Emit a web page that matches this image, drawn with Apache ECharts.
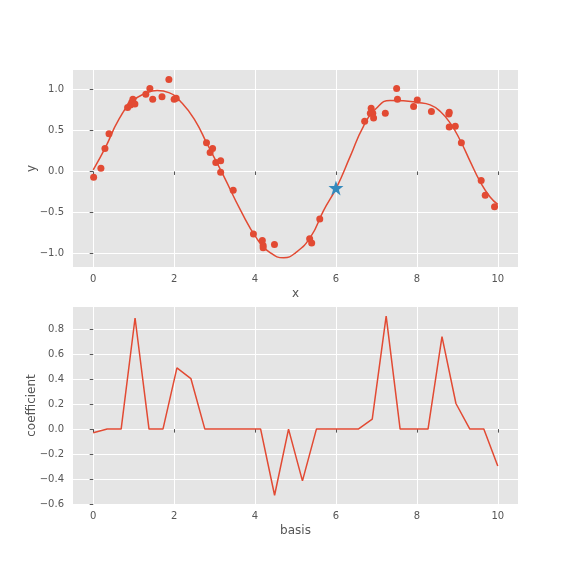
<!DOCTYPE html>
<html>
<head>
<meta charset="utf-8">
<script src="https://cdn.jsdelivr.net/npm/echarts@6/dist/echarts.min.js"></script>
<style>
  html, body { margin: 0; padding: 0; background: #fff; }
  #chart { width: 576px; height: 576px; }
</style>
</head>
<body>
<div id="chart"></div>
<script>
// noisy samples (x, y)
const sampleX = [0.01, 0.19, 0.29, 0.39, 0.85, 0.92, 0.95, 0.98, 1.03, 1.30, 1.40, 1.47, 1.70, 1.87, 2.00, 2.05,
  2.80, 2.89, 2.95, 3.03, 3.15, 3.15, 3.46, 3.96, 4.18, 4.20, 4.20, 4.48,
  5.35, 5.40, 5.60, 6.71, 6.85, 6.87, 6.91, 6.93, 7.22, 7.50, 7.52, 7.92, 8.01, 8.36,
  8.79, 8.80, 8.80, 8.95, 9.10, 9.59, 9.69, 9.92]
const sampleY = [-0.07, 0.04, 0.28, 0.46, 0.78, 0.81, 0.84, 0.88, 0.82, 0.94, 1.01, 0.88, 0.91, 1.12, 0.88, 0.89,
  0.35, 0.23, 0.28, 0.11, 0.13, -0.01, -0.23, -0.76, -0.84, -0.90, -0.93, -0.89,
  -0.82, -0.87, -0.58, 0.61, 0.71, 0.77, 0.71, 0.65, 0.71, 1.01, 0.88, 0.79, 0.87, 0.73,
  0.70, 0.72, 0.54, 0.55, 0.35, -0.11, -0.29, -0.43]

// fitted curve
const fitX = [0, 0.3, 0.63, 0.96, 1.29, 1.58, 1.87, 2.2, 2.53, 2.81, 3.22, 3.64, 4.05, 4.38, 4.71, 5.0,
  5.37, 5.69, 6.02, 6.35, 6.68, 7.0, 7.34, 7.67, 8.0, 8.33, 8.58, 8.83, 9.07, 9.32, 9.57, 9.81, 10.0]
const fitY = [0.02, 0.29, 0.63, 0.85, 0.95, 0.985, 0.96, 0.83, 0.61, 0.34, -0.05, -0.47, -0.82, -0.99, -1.05, -0.99,
  -0.80, -0.48, -0.19, 0.18, 0.55, 0.77, 0.865, 0.86, 0.84, 0.81, 0.73, 0.585, 0.38, 0.12, -0.13, -0.31, -0.40]

// query point
const queryPoint = [6, -0.2]

// basis coefficients (30 centres from 0 to 10)
const basisX = [0, 0.345, 0.69, 1.034, 1.379, 1.724, 2.069, 2.414, 2.759, 3.103, 3.448, 3.793, 4.138, 4.483, 4.828,
  5.172, 5.517, 5.862, 6.207, 6.552, 6.897, 7.241, 7.586, 7.931, 8.276, 8.621, 8.966, 9.31, 9.655, 10]
const coefY = [-0.03, 0, 0, 0.89, 0, 0, 0.49, 0.405, 0, 0, 0, 0, 0, -0.53, 0,
  -0.415, 0, 0, 0, 0, 0.08, 0.905, 0, 0, 0, 0.74, 0.205, 0, 0, -0.295]

const xTicks = [0, 2, 4, 6, 8, 10]
const yTicksTop = [-1, -0.5, 0, 0.5, 1]
const yTicksBottom = [-0.6, -0.4, -0.2, 0, 0.2, 0.4, 0.6, 0.8]

const red = '#E24A33'
const blue = '#348ABD'
const textColor = '#555555'
const font = 'DejaVu Sans'
const star = 'path://M50,0 L61.8,35.4 L99,35.4 L69,57.3 L80.4,92.7 L50,70.8 L19.6,92.7 L31,57.3 L1,35.4 L38.2,35.4 Z'

function xAxis (gridIndex, name) {
  return {
    type: 'value',
    gridIndex: gridIndex,
    min: -0.5,
    max: 10.5,
    name: name,
    nameLocation: 'middle',
    nameGap: 21,
    nameMoveOverlap: false,
    nameTextStyle: { color: textColor, fontSize: 12, fontFamily: font },
    axisLine: { show: false },
    axisTick: { show: true, length: 3.5, lineStyle: { color: textColor }, customValues: xTicks },
    axisLabel: {
      color: textColor, fontSize: 10, fontFamily: font, margin: 7,
      customValues: xTicks,
      formatter: v => String(v)
    },
    splitLine: { show: true, lineStyle: { color: '#ffffff', width: 1 } }
  }
}

function yAxis (gridIndex, name, min, max, ticks) {
  return {
    type: 'value',
    gridIndex: gridIndex,
    min: min,
    max: max,
    name: name,
    nameLocation: 'middle',
    nameGap: 35,
    nameMoveOverlap: false,
    nameTextStyle: { color: textColor, fontSize: 12, fontFamily: font },
    axisLine: { show: false },
    axisTick: { show: true, length: 3.5, lineStyle: { color: textColor }, customValues: ticks },
    axisLabel: {
      color: textColor, fontSize: 10, fontFamily: font, margin: 9,
      customValues: ticks,
      formatter: v => (Math.abs(v) < 1e-9 ? 0 : v).toFixed(1).replace('-', '\u2212')
    },
    splitLine: { show: true, lineStyle: { color: '#ffffff', width: 1 } }
  }
}

const chart = echarts.init(document.getElementById('chart'), null, { renderer: 'canvas' })
chart.setOption({
  animation: false,
  backgroundColor: '#ffffff',
  grid: [
    { left: 73, top: 70, width: 445, height: 197, show: true, backgroundColor: '#E5E5E5', borderWidth: 0 },
    { left: 73, top: 307, width: 445, height: 197, show: true, backgroundColor: '#E5E5E5', borderWidth: 0 }
  ],
  xAxis: [xAxis(0, 'x'), xAxis(1, 'basis')],
  yAxis: [
    yAxis(0, 'y', -1.163, 1.235, yTicksTop),
    yAxis(1, 'coefficient', -0.6, 0.978, yTicksBottom)
  ],
  series: [
    {
      type: 'line',
      xAxisIndex: 0,
      yAxisIndex: 0,
      data: fitX.map((x, i) => [x, fitY[i]]),
      smooth: 0.5,
      showSymbol: false,
      lineStyle: { color: red, width: 1.5 },
      z: 2
    },
    {
      type: 'scatter',
      xAxisIndex: 0,
      yAxisIndex: 0,
      data: sampleX.map((x, i) => [x, sampleY[i]]),
      symbolSize: 7,
      itemStyle: { color: red, opacity: 1 },
      z: 3
    },
    {
      type: 'scatter',
      xAxisIndex: 0,
      yAxisIndex: 0,
      data: [queryPoint],
      symbol: star,
      symbolSize: 15,
      itemStyle: { color: blue, opacity: 1 },
      z: 4
    },
    {
      type: 'line',
      xAxisIndex: 1,
      yAxisIndex: 1,
      data: basisX.map((x, i) => [x, coefY[i]]),
      showSymbol: false,
      lineStyle: { color: red, width: 1.5 }
    }
  ]
})
</script>
</body>
</html>
